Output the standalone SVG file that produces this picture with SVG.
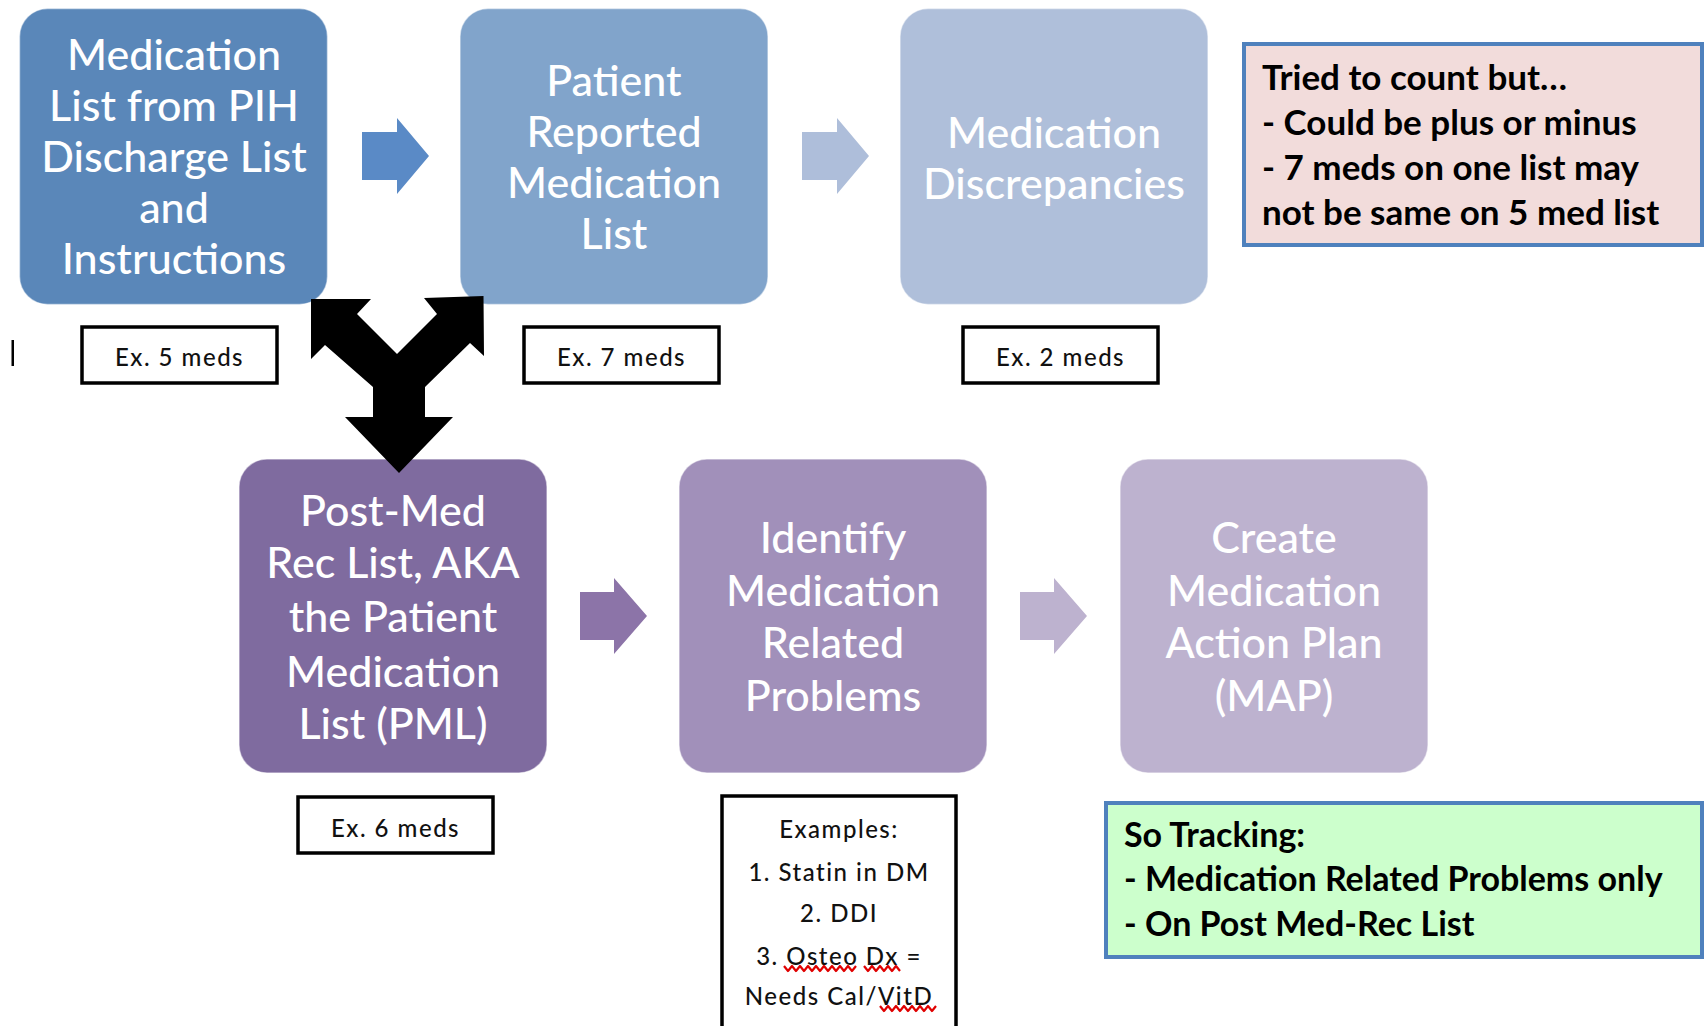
<svg xmlns="http://www.w3.org/2000/svg" width="1704" height="1026" viewBox="0 0 1704 1026">
  <style>
    .step { stroke: #ffffff; stroke-opacity: 0.5; stroke-width: 1.5; }
    .stepText { font-family: Lato, "Open Sans", sans-serif; font-size: 43px; font-weight: 500; fill: #ffffff; text-anchor: middle; }
    .exBox { fill: #ffffff; stroke: #000000; stroke-width: 3.5; }
    .exText { font-family: Lato, "Open Sans", sans-serif; font-size: 24px; font-weight: 500; fill: #111111; text-anchor: middle; letter-spacing: 1.5px; }
    .noteText { font-family: Lato, "Open Sans", sans-serif; font-size: 35px; font-weight: bold; fill: #000000; }
    .noteBox { stroke: #4F81BD; stroke-width: 4; }
    .squiggle { fill: none; stroke: #e00000; stroke-width: 2.2; stroke-linejoin: round; }
  </style>
  <rect width="1704" height="1026" fill="#ffffff"/>

  <!-- text cursor mark -->
  <rect x="11.5" y="340" width="2.5" height="26" fill="#000000"/>

  <!-- top row -->
  <g id="node-discharge-list">
    <rect class="step" x="19.5" y="8.5" width="308" height="296" rx="28" fill="#5A87B9"/>
    <text class="stepText"><tspan x="174" y="70">Medication</tspan><tspan x="174" y="121">List from PIH</tspan><tspan x="174" y="172">Discharge List</tspan><tspan x="174" y="223">and</tspan><tspan x="174" y="274">Instructions</tspan></text>
  </g>
  <g id="node-patient-reported">
    <rect class="step" x="460" y="8.5" width="308" height="296" rx="28" fill="#81A4CB"/>
    <text class="stepText"><tspan x="614" y="96">Patient</tspan><tspan x="614" y="147">Reported</tspan><tspan x="614" y="198">Medication</tspan><tspan x="614" y="249">List</tspan></text>
  </g>
  <g id="node-discrepancies">
    <rect class="step" x="900" y="8.5" width="308" height="296" rx="28" fill="#AFBFDA"/>
    <text class="stepText"><tspan x="1054" y="148">Medication</tspan><tspan x="1054" y="199">Discrepancies</tspan></text>
  </g>

  <!-- bottom row -->
  <g id="node-post-med-rec">
    <rect class="step" x="239" y="459" width="308" height="314" rx="28" fill="#7F6B9F"/>
    <text class="stepText"><tspan x="393" y="526">Post-Med</tspan><tspan x="393" y="578">Rec List, AKA</tspan><tspan x="393" y="632">the Patient</tspan><tspan x="393" y="687">Medication</tspan><tspan x="393" y="739">List (PML)</tspan></text>
  </g>
  <g id="node-identify-problems">
    <rect class="step" x="679" y="459" width="308" height="314" rx="28" fill="#A190BA"/>
    <text class="stepText"><tspan x="833" y="553">Identify</tspan><tspan x="833" y="606">Medication</tspan><tspan x="833" y="658">Related</tspan><tspan x="833" y="711">Problems</tspan></text>
  </g>
  <g id="node-action-plan">
    <rect class="step" x="1120" y="459" width="308" height="314" rx="28" fill="#BDB2CF"/>
    <text class="stepText"><tspan x="1274" y="553">Create</tspan><tspan x="1274" y="606">Medication</tspan><tspan x="1274" y="658">Action Plan</tspan><tspan x="1274" y="711">(MAP)</tspan></text>
  </g>

  <!-- count labels -->
  <g id="label-ex5">
    <rect class="exBox" x="82" y="327" width="195" height="56"/>
    <text class="exText" x="179.5" y="366">Ex. 5 meds</text>
  </g>
  <g id="label-ex7">
    <rect class="exBox" x="524" y="327" width="195" height="56"/>
    <text class="exText" x="621.5" y="366">Ex. 7 meds</text>
  </g>
  <g id="label-ex2">
    <rect class="exBox" x="963" y="327" width="195" height="56"/>
    <text class="exText" x="1060.5" y="366">Ex. 2 meds</text>
  </g>
  <g id="label-ex6">
    <rect class="exBox" x="298" y="797" width="195" height="56"/>
    <text class="exText" x="395.5" y="837">Ex. 6 meds</text>
  </g>
  <g id="label-examples">
    <rect class="exBox" x="722" y="796" width="234" height="240"/>
    <text class="exText"><tspan x="839" y="838">Examples:</tspan><tspan x="839" y="881">1. Statin in DM</tspan><tspan x="839" y="922">2. DDI</tspan><tspan x="839" y="965">3. Osteo Dx =</tspan><tspan x="839" y="1005">Needs Cal/VitD</tspan></text>
    <!-- spell-check underlines -->
    <path class="squiggle" d="M784 966 l4 5 l4 -5 l4 5 l4 -5 l4 5 l4 -5 l4 5 l4 -5 l4 5 l4 -5 l4 5 l4 -5 l4 5 l4 -5 l4 5 l4 -5 l4 5 l4 -5"/>
    <path class="squiggle" d="M864 966 l4 5 l4 -5 l4 5 l4 -5 l4 5 l4 -5 l4 5 l4 -5 l4 5"/>
    <path class="squiggle" d="M880 1006 l4 5 l4 -5 l4 5 l4 -5 l4 5 l4 -5 l4 5 l4 -5 l4 5 l4 -5 l4 5 l4 -5 l4 5 l4 -5"/>
  </g>

  <!-- notes -->
  <g id="note-count">
    <rect class="noteBox" x="1244" y="44" width="458" height="201" fill="#F2DCDB"/>
    <text class="noteText">
      <tspan x="1262" y="90">Tried to count but…</tspan>
      <tspan x="1262" y="135">- Could be plus or minus</tspan>
      <tspan x="1262" y="180">- 7 meds on one list may</tspan>
      <tspan x="1262" y="225">not be same on 5 med list</tspan>
    </text>
  </g>
  <g id="note-tracking">
    <rect class="noteBox" x="1106" y="803" width="596" height="154" fill="#CCFFCC"/>
    <text class="noteText" style="font-size:34px">
      <tspan x="1124" y="847">So Tracking:</tspan>
      <tspan x="1124" y="891">- Medication Related Problems only</tspan>
      <tspan x="1124" y="936">- On Post Med-Rec List</tspan>
    </text>
  </g>

  <!-- connectors -->
  <g id="connectors">
    <path d="M362 132 H397 V118 L429 156 L397 194 V180 H362 Z" fill="#5A8AC6"/>
    <path d="M802 132 H837 V118 L869 156 L837 194 V180 H802 Z" fill="#AEBEDA"/>
    <path d="M580 592 H614 V578 L647 616 L614 654 V640 H580 Z" fill="#8C74A8"/>
    <path d="M1020 592 H1054 V578 L1087 616 L1054 654 V640 H1020 Z" fill="#BDB2CF"/>
    <!-- merge arrow from both lists into the post-med-rec list -->
    <path d="M311 299 L371 299 L357 314 L397 354 L437 314 L424 298 L483.5 296 L484 356 L470 343 L425 387 L425 417 L453 417 L399 473 L345 417 L373 417 L373 387 L325 345 L311 359 Z" fill="#000000"/>
  </g>
</svg>
